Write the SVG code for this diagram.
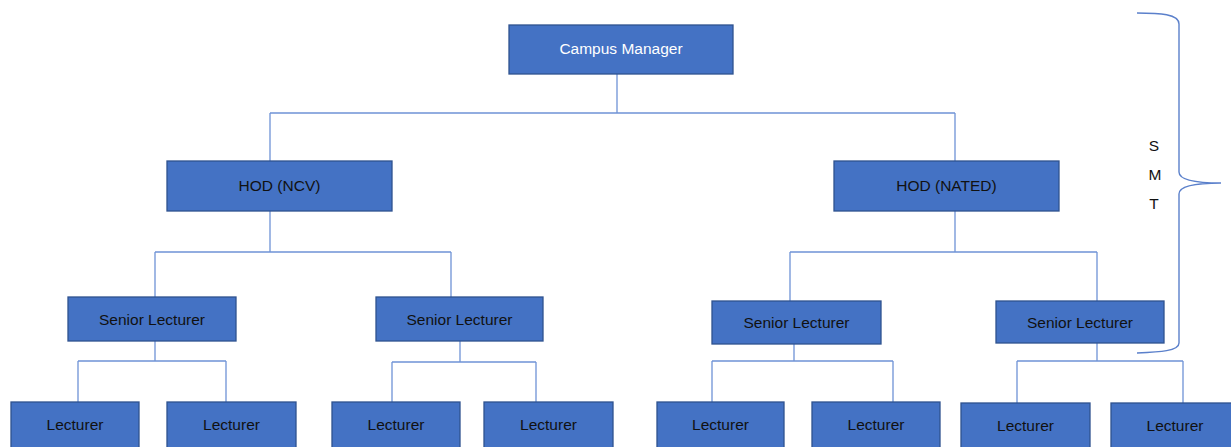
<svg xmlns="http://www.w3.org/2000/svg" width="1231" height="447" viewBox="0 0 1231 447">
<style>
.box{fill:#4472C4;stroke:#2F528F;stroke-width:1.3}
.t{font-family:"Liberation Sans",Arial,sans-serif;font-size:15.5px;text-anchor:middle;fill:#111111}
.w{fill:#ffffff}
.c{fill:none;stroke:#6F93D6;stroke-width:1.3}
.br{fill:none;stroke:#5B80CB;stroke-width:1.4}
</style>
<rect width="1231" height="447" fill="#ffffff"/>
<g id="connectors">
<path class="c" d="M617,74V113M270,113H955M270,113V161M955,113V161"/>
<path class="c" d="M270,211V252M155,252H451M155,252V297M451,252V297"/>
<path class="c" d="M955,211V252M790,252H1097M790,252V301M1097,252V301"/>
<path class="c" d="M155,341V361M78,361H226M78,361V402M226,361V402"/>
<path class="c" d="M460,341V362M392,362H536M392,362V402M536,362V402"/>
<path class="c" d="M794,344V361M712,361H893M712,361V402M893,361V402"/>
<path class="c" d="M1097,343V361M1017,361H1183M1017,361V403M1183,361V403"/>
</g>
<g id="campus-manager"><rect class="box" x="509" y="25" width="224" height="49"/><text class="t w" x="621" y="54">Campus Manager</text></g>
<g id="hod-ncv"><rect class="box" x="167" y="161" width="225" height="50"/><text class="t" x="279.5" y="191">HOD (NCV)</text></g>
<g id="hod-nated"><rect class="box" x="834" y="161" width="225" height="50"/><text class="t" x="946.5" y="191">HOD (NATED)</text></g>
<g id="senior-1"><rect class="box" x="68" y="297" width="168" height="44"/><text class="t" x="152" y="325">Senior Lecturer</text></g>
<g id="senior-2"><rect class="box" x="376" y="297" width="167" height="44"/><text class="t" x="459.5" y="325">Senior Lecturer</text></g>
<g id="senior-3"><rect class="box" x="712" y="301" width="169" height="43"/><text class="t" x="796.5" y="328">Senior Lecturer</text></g>
<g id="senior-4"><rect class="box" x="996" y="301" width="168" height="42"/><text class="t" x="1080" y="328">Senior Lecturer</text></g>
<g id="lecturer-1"><rect class="box" x="11" y="402" width="128" height="60"/><text class="t" x="75" y="430">Lecturer</text></g>
<g id="lecturer-2"><rect class="box" x="167" y="402" width="129" height="60"/><text class="t" x="231.5" y="430">Lecturer</text></g>
<g id="lecturer-3"><rect class="box" x="332" y="402" width="128" height="60"/><text class="t" x="396" y="430">Lecturer</text></g>
<g id="lecturer-4"><rect class="box" x="484" y="402" width="129" height="60"/><text class="t" x="548.5" y="430">Lecturer</text></g>
<g id="lecturer-5"><rect class="box" x="657" y="402" width="127" height="60"/><text class="t" x="720.5" y="430">Lecturer</text></g>
<g id="lecturer-6"><rect class="box" x="812" y="402" width="128" height="60"/><text class="t" x="876" y="430">Lecturer</text></g>
<g id="lecturer-7"><rect class="box" x="961" y="403" width="129" height="60"/><text class="t" x="1025.5" y="431">Lecturer</text></g>
<g id="lecturer-8"><rect class="box" x="1111" y="403" width="128" height="60"/><text class="t" x="1175" y="431">Lecturer</text></g>
<g id="smt-brace">
<path class="br" d="M1137,13 C1160,13 1179,14 1179,24 L1179,172 C1179,180 1195,183 1221,183 C1195,183 1179,186 1179,194 L1179,343 C1179,351 1160,352 1137,353"/>
<text class="t" x="1154" y="151">S</text>
<text class="t" x="1155" y="180">M</text>
<text class="t" x="1154" y="209">T</text>
</g>
</svg>
